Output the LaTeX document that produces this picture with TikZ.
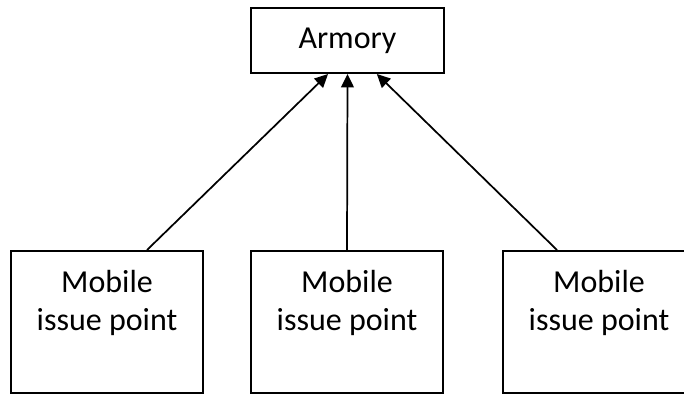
\documentclass[tikz,border=0pt]{standalone}
\usepackage{fontspec}
\setmainfont{Carlito}
\usetikzlibrary{arrows.meta}

\begin{document}
\begin{tikzpicture}[x=0.75pt,y=-0.75pt,
  box/.style={draw,line width=1.5pt,inner sep=0pt,align=center,font=\fontsize{24}{28.5}\selectfont},
  issue/.style={box,anchor=north,minimum width=144pt,text height=59.25pt,text depth=47.25pt},
  link/.style={line width=1.3pt,-{Triangle[length=10pt,width=9.5pt]}}]
\useasboundingbox (0,0) rectangle (684,394);
\node[box,minimum width=144.75pt,minimum height=48.75pt] (armory) at (347.5,40.5) {Armory};
\node[issue] (issueA) at (107,250) {Mobile\\issue point};
\node[issue] (issueB) at (347,250) {Mobile\\issue point};
\node[issue] (issueC) at (599,250) {Mobile\\issue point};
\draw[link] ([xshift=30pt]issueA.north) -- ([xshift=-14.6pt]armory.south);
\draw[link] (issueB.north) -- (armory.south);
\draw[link] ([xshift=-31.5pt]issueC.north) -- ([xshift=22pt]armory.south);
\end{tikzpicture}
\end{document}
